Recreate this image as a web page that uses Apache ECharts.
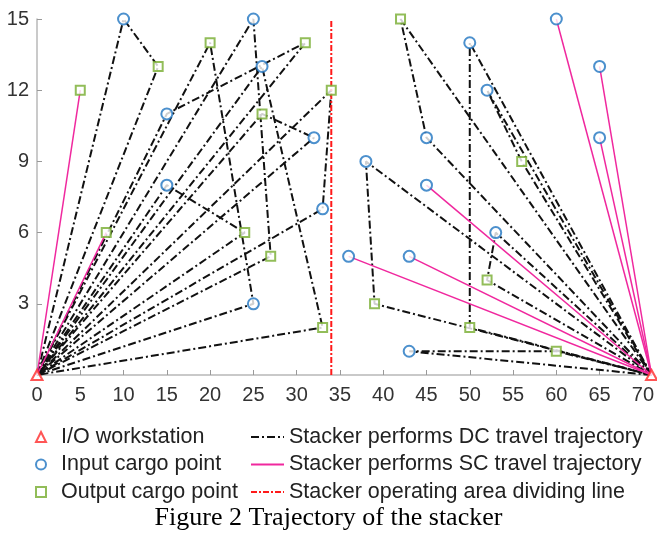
<!DOCTYPE html>
<html><head><meta charset="utf-8">
<script src="https://cdn.jsdelivr.net/npm/echarts@6/dist/echarts.min.js"></script>
<style>html,body{margin:0;padding:0;background:#fff}#c{width:657px;height:533px}</style>
</head><body><div id="c"></div>
<script>
// ---- data ----
const ioPoints = [[0, 0], [71, 0]];
const inputPoints = [
  [10, 15], [25, 15], [26, 13], [15, 11], [32, 10], [15, 8], [33, 7], [25, 3],
  [60, 15], [50, 14], [52, 12], [65, 13], [65, 10], [45, 10], [38, 9], [45, 8],
  [53, 6], [36, 5], [43, 5], [43, 1]
];
const outputPoints = [
  [5, 12], [14, 13], [20, 14], [31, 14], [34, 12], [26, 11], [8, 6], [24, 6], [27, 5], [33, 2],
  [42, 15], [56, 9], [52, 4], [39, 3], [50, 2], [60, 1]
];
// DC trips: [input point, output point], starting and ending at the side's I/O workstation
const dcLeft = [
  [[10, 15], [14, 13]], [[15, 11], [31, 14]], [[15, 8], [24, 6]], [[25, 3], [20, 14]],
  [[32, 10], [26, 11]], [[33, 7], [34, 12]], [[25, 15], [27, 5]], [[26, 13], [33, 2]]
];
const dcRight = [
  [[38, 9], [39, 3]], [[50, 14], [50, 2]], [[53, 6], [52, 4]],
  [[43, 1], [60, 1]], [[45, 10], [42, 15]], [[52, 12], [56, 9]]
];
// SC trips: single point served from the side's I/O workstation
const scLeft = [[5, 12], [8, 6]];
const scRight = [[60, 15], [65, 13], [65, 10], [45, 8], [43, 5], [36, 5]];
const dividerLine = [[34, 0], [34, 15]];
const xTicks = [0, 5, 10, 15, 20, 25, 30, 35, 40, 45, 50, 55, 60, 65, 70];
const names = {
  io: 'I/O workstation',
  inp: 'Input cargo point',
  out: 'Output cargo point',
  dc: 'Stacker performs DC travel trajectory',
  sc: 'Stacker performs SC travel trajectory',
  div: 'Stacker operating area dividing line'
};

// ---- styles ----
const FONT = 'Liberation Sans';
const C_DC = '#111111', C_SC = '#f0289e', C_DIV = '#ff1a1a';
const C_IN = '#1f74c0', C_OUT = '#77ac30', C_IO = '#ff2a2a';
const DC_DASH = [8, 3, 2, 3];

const series = [];
function dcSeries(pts) {
  return { name: names.dc, type: 'line', data: pts, symbol: 'none', clip: false, z: 2,
    lineStyle: { color: C_DC, width: 2, type: DC_DASH }, itemStyle: { color: C_DC },
    silent: true, animation: false };
}
function scSeries(pts) {
  return { name: names.sc, type: 'line', data: pts, symbol: 'none', clip: false, z: 3,
    lineStyle: { color: C_SC, width: 1.5, type: 'solid' }, itemStyle: { color: C_SC },
    silent: true, animation: false };
}
dcLeft.forEach(([a, b]) => series.push(dcSeries([ioPoints[0], a, b, ioPoints[0]])));
dcRight.forEach(([a, b]) => series.push(dcSeries([ioPoints[1], a, b, ioPoints[1]])));
scLeft.forEach(p => series.push(scSeries([ioPoints[0], p])));
scRight.forEach(p => series.push(scSeries([ioPoints[1], p])));
series.push({ name: names.div, type: 'line', data: dividerLine, symbol: 'none', clip: false, z: 4,
  lineStyle: { color: C_DIV, width: 2, type: [6, 2, 2, 2] }, itemStyle: { color: C_DIV },
  silent: true, animation: false });
series.push({ name: names.inp, type: 'scatter', data: inputPoints, symbol: 'emptyCircle', symbolSize: 11,
  clip: false, z: 10, itemStyle: { color: C_IN, borderColor: C_IN, borderWidth: 2 }, animation: false });
series.push({ name: names.out, type: 'scatter', data: outputPoints, symbol: 'emptyRect', symbolSize: 9,
  clip: false, z: 10, itemStyle: { color: C_OUT, borderColor: C_OUT, borderWidth: 2 }, animation: false });
series.push({ name: names.io, type: 'scatter', data: ioPoints, symbol: 'emptyTriangle', symbolSize: [11, 10],
  clip: false, z: 11, itemStyle: { color: C_IO, borderColor: C_IO, borderWidth: 1.5 }, animation: false });

const legendText = { fontFamily: FONT, fontSize: 21.5, color: '#222' };
const option = {
  backgroundColor: '#fff',
  animation: false,
  title: {
    text: 'Figure 2 Trajectory of the stacker', left: 'center', top: 505, padding: 0,
    textStyle: { fontFamily: 'Liberation Serif', fontSize: 26, fontWeight: 'normal', color: '#000' }
  },
  grid: { left: 37, right: 5, top: 19, bottom: 158 },
  xAxis: {
    type: 'value', min: 0, max: 71,
    axisLine: { show: true, onZero: false, lineStyle: { color: '#b8b8b8', width: 1.5 } },
    axisTick: { show: true, inside: true, length: 5, customValues: xTicks, lineStyle: { color: '#999' } },
    axisLabel: { customValues: xTicks, fontFamily: FONT, fontSize: 20, color: '#333', margin: 10 },
    splitLine: { show: false }
  },
  yAxis: {
    type: 'value', min: 0, max: 15, interval: 3,
    axisLine: { show: true, onZero: false, lineStyle: { color: '#b8b8b8', width: 1.5 } },
    axisTick: { show: true, inside: true, length: 5, lineStyle: { color: '#999' } },
    axisLabel: { showMinLabel: false, fontFamily: FONT, fontSize: 20, color: '#333', margin: 8 },
    splitLine: { show: false }
  },
  legend: [
    { data: [names.io, names.inp, names.out], orient: 'vertical', left: 30, top: 421,
      itemWidth: 10, itemHeight: 10, itemGap: 5.5, selectedMode: false,
      textStyle: Object.assign({ padding: [0, 0, 0, 10] }, legendText) },
    { data: [names.dc, names.sc, names.div], orient: 'vertical', left: 245, top: 421,
      itemWidth: 33, itemHeight: 12, itemGap: 5.5, selectedMode: false,
      itemStyle: { opacity: 0 },
      textStyle: Object.assign({ padding: [0, 0, 0, 0] }, legendText) }
  ],
  series: series
};
const chart = echarts.init(document.getElementById('c'), null, { renderer: 'canvas' });
chart.setOption(option);
</script></body></html>
